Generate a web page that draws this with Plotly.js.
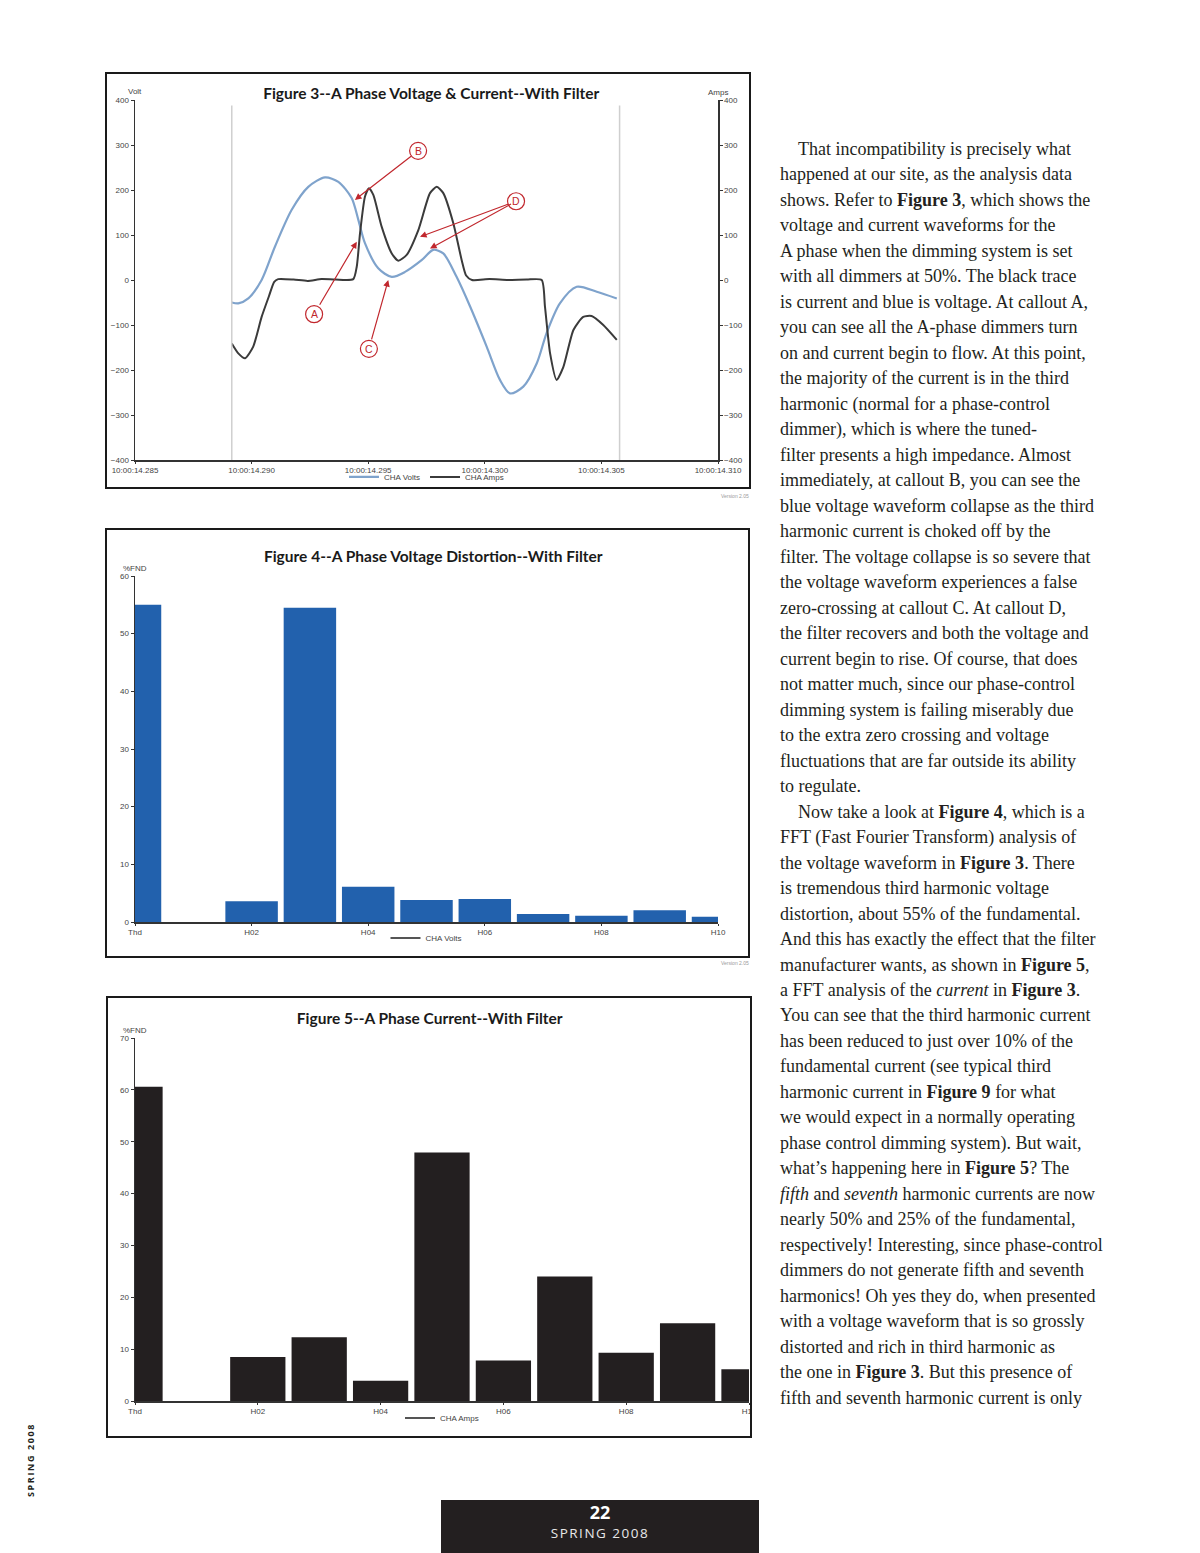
<!DOCTYPE html>
<html><head><meta charset="utf-8">
<script src="https://cdn.plot.ly/plotly-3.0.1.min.js"></script>
<style>
body{margin:0;background:#fff;width:1200px;height:1553px;position:relative;overflow:hidden;font-family:'Liberation Serif',serif;}
.box{position:absolute;border:2px solid #1a1a1a;box-sizing:border-box;background:#fff;}
.plot{position:absolute;left:0;top:0;}
.ver{position:absolute;font-family:'Liberation Sans',sans-serif;font-size:5px;color:#9a9a9a;}
#text{position:absolute;left:780px;top:137px;font-size:18px;line-height:25.48px;color:#231f20;white-space:nowrap;}
#text .in{padding-left:18px;}
#side{position:absolute;left:30px;top:1460px;transform:translate(-50%,-50%) rotate(-90deg);font-family:'Open Sans',sans-serif;font-weight:700;font-size:9px;letter-spacing:1.6px;color:#231f20;white-space:nowrap;}
#foot{position:absolute;left:441px;top:1500px;width:318px;height:53px;background:#231f20;color:#fff;text-align:center;font-family:'Open Sans',sans-serif;}
#foot .num{position:absolute;left:0;right:0;top:1px;font-size:18px;font-weight:700;line-height:22px;}
#foot .iss{position:absolute;left:0;right:0;top:23px;font-size:13.5px;letter-spacing:1.5px;line-height:20px;color:#e8e8e8;}
</style></head>
<body>
<div class="box" style="left:105px;top:72px;width:646px;height:417px;"><div id="fig3" class="plot"></div></div>
<div class="ver" style="left:721px;top:493px;">Version 2.05</div>
<div class="box" style="left:105px;top:528px;width:645px;height:430px;"><div id="fig4" class="plot"></div></div>
<div class="ver" style="left:721px;top:960px;">Version 2.05</div>
<div class="box" style="left:106px;top:996px;width:646px;height:442px;"><div id="fig5" class="plot"></div></div>

<div id="text">
<div class="in">That incompatibility is precisely what</div>
<div>happened at our site, as the analysis data</div>
<div>shows. Refer to <b>Figure 3</b>, which shows the</div>
<div>voltage and current waveforms for the</div>
<div>A phase when the dimming system is set</div>
<div>with all dimmers at 50%. The black trace</div>
<div>is current and blue is voltage. At callout A,</div>
<div>you can see all the A-phase dimmers turn</div>
<div>on and current begin to flow. At this point,</div>
<div>the majority of the current is in the third</div>
<div>harmonic (normal for a phase-control</div>
<div>dimmer), which is where the tuned-</div>
<div>filter presents a high impedance. Almost</div>
<div>immediately, at callout B, you can see the</div>
<div>blue voltage waveform collapse as the third</div>
<div>harmonic current is choked off by the</div>
<div>filter. The voltage collapse is so severe that</div>
<div>the voltage waveform experiences a false</div>
<div>zero-crossing at callout C. At callout D,</div>
<div>the filter recovers and both the voltage and</div>
<div>current begin to rise. Of course, that does</div>
<div>not matter much, since our phase-control</div>
<div>dimming system is failing miserably due</div>
<div>to the extra zero crossing and voltage</div>
<div>fluctuations that are far outside its ability</div>
<div>to regulate.</div>
<div class="in">Now take a look at <b>Figure 4</b>, which is a</div>
<div>FFT (Fast Fourier Transform) analysis of</div>
<div>the voltage waveform in <b>Figure 3</b>. There</div>
<div>is tremendous third harmonic voltage</div>
<div>distortion, about 55% of the fundamental.</div>
<div>And this has exactly the effect that the filter</div>
<div>manufacturer wants, as shown in <b>Figure 5</b>,</div>
<div>a FFT analysis of the <i>current</i> in <b>Figure 3</b>.</div>
<div>You can see that the third harmonic current</div>
<div>has been reduced to just over 10% of the</div>
<div>fundamental current (see typical third</div>
<div>harmonic current in <b>Figure 9</b> for what</div>
<div>we would expect in a normally operating</div>
<div>phase control dimming system). But wait,</div>
<div>what’s happening here in <b>Figure 5</b>? The</div>
<div><i>fifth</i> and <i>seventh</i> harmonic currents are now</div>
<div>nearly 50% and 25% of the fundamental,</div>
<div>respectively! Interesting, since phase-control</div>
<div>dimmers do not generate fifth and seventh</div>
<div>harmonics! Oh yes they do, when presented</div>
<div>with a voltage waveform that is so grossly</div>
<div>distorted and rich in third harmonic as</div>
<div>the one in <b>Figure 3</b>. But this presence of</div>
<div>fifth and seventh harmonic current is only</div>
</div>

<div id="side">SPRING 2008</div>
<div id="foot"><div class="num">22</div><div class="iss">SPRING 2008</div></div>

<script>
// ---------- Figure 3 data (time in ms after 10:00:14.285) ----------
const timeTicks = [0, 5, 10, 15, 20, 25];
const timeLabels = ['10:00:14.285','10:00:14.290','10:00:14.295','10:00:14.300','10:00:14.305','10:00:14.310'];
const voltTime = [4.15,4.43,4.86,5.43,6.00,6.72,7.43,8.15,8.72,9.29,9.58,9.86,10.43,11.01,11.58,12.29,12.79,13.22,13.79,14.37,15.08,15.65,16.08,16.65,17.23,17.65,18.22,18.94,19.80,20.66];
const voltValues = [-50,-52,-41,0,74,156,207,228,218,182,133,82,26,7,18,44,67,59,7,-59,-148,-222,-252,-237,-185,-118,-52,-15,-26,-41];
const ampTime = [4.15,4.43,4.72,5.07,5.43,5.75,5.97,6.14,6.8,7.4,8.0,8.6,9.36,9.51,9.65,9.86,10.03,10.22,10.58,11.01,11.29,11.65,12.15,12.65,12.94,13.22,13.65,14.01,14.2,14.45,15.2,16.0,16.8,17.44,17.58,17.80,18.08,18.37,18.80,19.22,19.58,20.08,20.66];
const ampValues = [-141,-163,-174,-148,-82,-35,-4,2,1,-2,2,1,2,30,104,185,204,189,118,59,43,56,111,193,207,193,126,44,10,0,2,0,1,0,-59,-163,-222,-193,-111,-82,-80,-100,-133];
const seriesNames3 = ['CHA Volts', 'CHA Amps'];
// callouts: label, target (t, value), label position (t, value)
const calloutLabels = ['A', 'B', 'C', 'D', 'D'];
const calloutTargetT = [9.51, 9.43, 10.86, 12.22, 12.65];
const calloutTargetV = [85, 178, 0, 96, 70];
const calloutLabelT = [7.68, 12.14, 10.03, 16.34, 16.34];
const calloutLabelV = [-76, 287, -153, 175, 175];

// ---------- Figure 4 / 5 data ----------
const harmonics = ['Thd','H01','H02','H03','H04','H05','H06','H07','H08','H09','H10'];
const harmonicTicks = ['Thd','H02','H04','H06','H08','H10'];
const voltageDistortion = [55.0, 0, 3.6, 54.5, 6.1, 3.8, 4.0, 1.4, 1.1, 2.05, 0.9];
const currentDistortion = [60.6, 0, 8.5, 12.3, 3.9, 47.9, 7.8, 24.0, 9.3, 15.0, 6.1];

const RED = '#c1272d';
const tickFont = {family:'Liberation Sans, Arial, sans-serif', size:8, color:'#444'};
const titleFont = {family:'Lato, Open Sans, sans-serif', size:15.5, weight:700, color:'#1a1a1a'};
const baseAxis = {showline:true, linecolor:'#333', linewidth:1.5, ticks:'outside', ticklen:3, tickcolor:'#333', showgrid:false, zeroline:false, tickfont:tickFont, fixedrange:true};

// ---------- Figure 3 ----------
const shapes3 = [
  {type:'line', xref:'x', yref:'paper', x0:voltTime[0], x1:voltTime[0], y0:0, y1:0.985, line:{color:'#cfcfcf', width:1.5}},
  {type:'line', xref:'x', yref:'paper', x0:voltTime[voltTime.length-1]+0.12, x1:voltTime[voltTime.length-1]+0.12, y0:0, y1:0.985, line:{color:'#cfcfcf', width:1.5}}
];
const ann3 = [
  {xref:'paper', yref:'paper', x:0.0, y:1.0, xanchor:'center', yanchor:'bottom', yshift:2, text:'Volt', showarrow:false, font:tickFont},
  {xref:'paper', yref:'paper', x:1.0, y:1.0, xanchor:'center', yanchor:'bottom', yshift:1, text:'Amps', showarrow:false, font:tickFont}
];
const seenLabel = {};
calloutLabels.forEach((lab, i) => {
  ann3.push({x:calloutTargetT[i], y:calloutTargetV[i], xref:'x', yref:'y', ax:calloutLabelT[i], ay:calloutLabelV[i], axref:'x', ayref:'y',
    text: seenLabel[lab] ? ' ' : lab, showarrow:true, arrowhead:2, arrowsize:1.1, arrowwidth:1.2, arrowcolor:RED, standoff:0,
    borderpad:3, font:{family:'Liberation Sans, Arial, sans-serif', size:10.5, color:RED}});
  if (!seenLabel[lab]) {
    shapes3.push({type:'circle', xref:'x', yref:'y', xsizemode:'pixel', ysizemode:'pixel', xanchor:calloutLabelT[i], yanchor:calloutLabelV[i],
      x0:-8.5, x1:8.5, y0:-8.5, y1:8.5, line:{color:RED, width:1.2}, fillcolor:'rgba(255,255,255,0.9)'});
  }
  seenLabel[lab] = true;
});

Plotly.newPlot('fig3', [
  {x:voltTime, y:voltValues, name:seriesNames3[0], type:'scatter', mode:'lines', line:{color:'#7fa3cc', width:2.2, shape:'spline', smoothing:0.8}},
  {x:ampTime, y:ampValues, name:seriesNames3[1], type:'scatter', mode:'lines', yaxis:'y2', line:{color:'#3b3b3b', width:2, shape:'spline', smoothing:0.6}}
], {
  width:642, height:413, margin:{l:28, r:31, t:26, b:27, autoexpand:false},
  paper_bgcolor:'#fff', plot_bgcolor:'#fff',
  title:{text:'Figure 3--A Phase Voltage &amp; Current--With Filter', font:titleFont, xref:'container', yref:'container', x:0.505, y:0.952, xanchor:'center', yanchor:'middle'},
  xaxis:Object.assign({}, baseAxis, {range:[0,25], tickvals:timeTicks, ticktext:timeLabels, ticklen:2}),
  yaxis:Object.assign({}, baseAxis, {range:[-400,400], dtick:100}),
  yaxis2:Object.assign({}, baseAxis, {range:[-400,400], dtick:100, overlaying:'y', side:'right'}),
  showlegend:true,
  legend:{orientation:'h', x:0.5, xanchor:'center', y:-0.047, yanchor:'middle', font:tickFont, itemwidth:30, bgcolor:'rgba(0,0,0,0)'},
  shapes:shapes3, annotations:ann3
}, {displayModeBar:false, staticPlot:true});

// ---------- Bar figures ----------
function barFigure(id, w, h, margin, titleText, titleX, titleY, values, color, yMax, legendName, legendY) {
  Plotly.newPlot(id, [
    {x:harmonics, y:values, type:'bar', marker:{color:color, line:{width:0}}, showlegend:false},
    {x:[null], y:[null], type:'scatter', mode:'lines', name:legendName, line:{color:'#555', width:2}}
  ], {
    width:w, height:h, margin:Object.assign({autoexpand:false}, margin),
    paper_bgcolor:'#fff', plot_bgcolor:'#fff', bargap:0.1,
    title:{text:titleText, font:titleFont, xref:'container', yref:'container', x:titleX, y:titleY, xanchor:'center', yanchor:'middle'},
    xaxis:Object.assign({}, baseAxis, {type:'category', range:[0,10], tickvals:harmonicTicks, ticktext:harmonicTicks, ticklen:2}),
    yaxis:Object.assign({}, baseAxis, {range:[0,yMax], dtick:10}),
    showlegend:true,
    legend:{orientation:'h', x:0.5, xanchor:'center', y:legendY, yanchor:'middle', font:tickFont, itemwidth:30, bgcolor:'rgba(0,0,0,0)'},
    annotations:[{xref:'paper', yref:'paper', x:0.0, y:1.0, xanchor:'center', yanchor:'bottom', yshift:1, text:'%FND', showarrow:false, font:tickFont}]
  }, {displayModeBar:false, staticPlot:true});
}
barFigure('fig4', 641, 426, {l:28, r:30, t:46, b:34}, 'Figure 4--A Phase Voltage Distortion--With Filter', 0.509, 0.937, voltageDistortion, '#2261ad', 60, 'CHA Volts', -0.046);
barFigure('fig5', 642, 438, {l:27, r:1, t:40, b:35}, 'Figure 5--A Phase Current--With Filter', 0.501, 0.954, currentDistortion, '#231f20', 70, 'CHA Amps', -0.047);
</script>
</body></html>
